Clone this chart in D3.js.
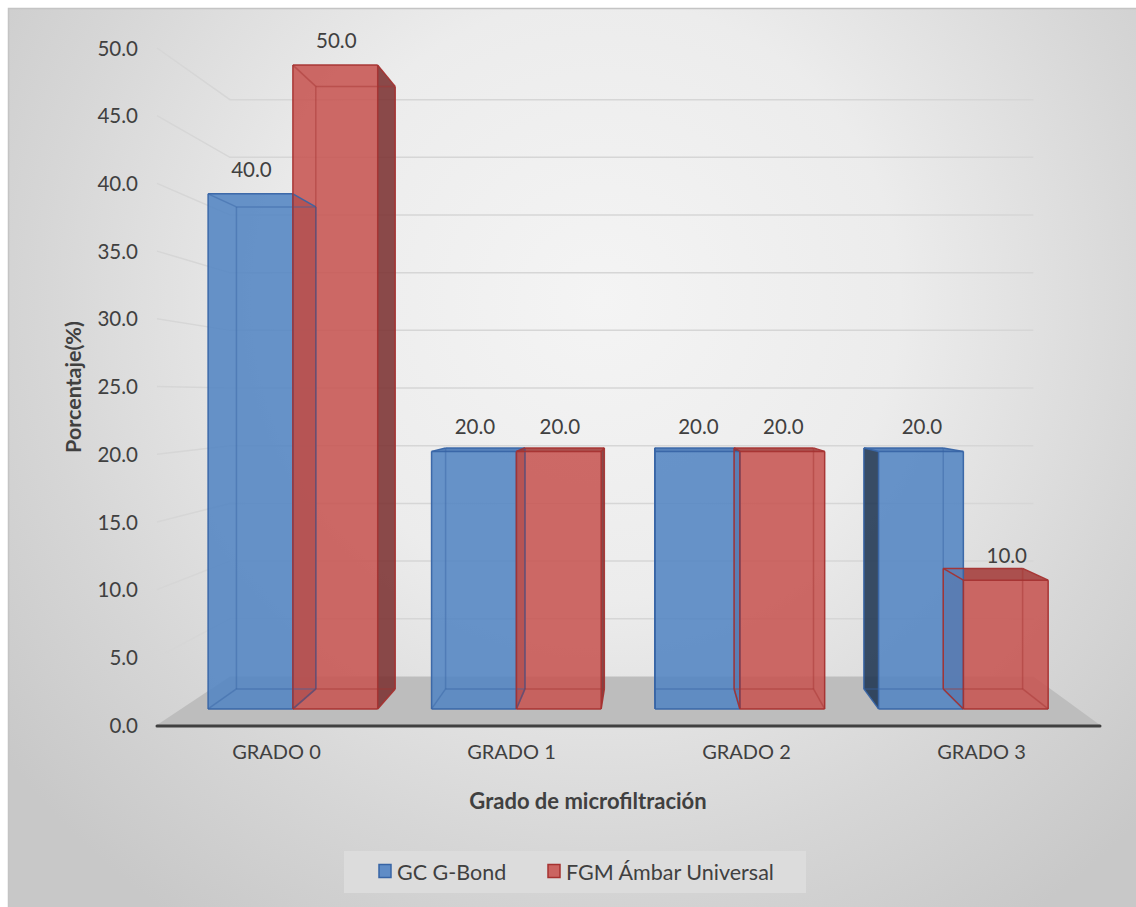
<!DOCTYPE html>
<html>
<head>
<meta charset="utf-8">
<script src="https://cdn.jsdelivr.net/npm/d3@7"></script>
<style>
html,body{margin:0;padding:0;background:#fff;}
svg{display:block;}
text{font-family:Lato,"Open Sans",sans-serif;fill:#404040;}
</style>
</head>
<body>
<svg id="chart" width="1136" height="907"></svg>
<script>
// ---- data ----
const categories = ["GRADO 0", "GRADO 1", "GRADO 2", "GRADO 3"];
const seriesNames = ["GC G-Bond", "FGM Ámbar Universal"];
const gcGBond = [40, 20, 20, 20];
const fgmAmbar = [50, 20, 20, 10];
const yTicks = [0, 5, 10, 15, 20, 25, 30, 35, 40, 45, 50];
const xTitle = "Grado de microfiltración";
const yTitle = "Porcentaje(%)";

// ---- layout / style ----
const W = 1136, H = 907;
const VP = [650, 397];          // vanishing point
const S_WALL_BACK = 0.852, S_BAR_FRONT = 0.951, S_BAR_BACK = 0.890;
const styles = [
  {front:"rgb(83,133,195)", side:"rgb(31,54,82)", top:"rgb(70,118,182)", edge:"rgb(55,100,165)", legend:"rgb(95,140,198)"},
  {front:"rgb(199,85,82)", side:"rgb(124,50,50)", top:"rgb(165,64,62)", edge:"rgb(165,50,48)", legend:"rgb(203,100,97)"}
];

const svg = d3.select("#chart");
const defs = svg.append("defs");
const grad = defs.append("radialGradient").attr("id","bg")
  .attr("gradientUnits","userSpaceOnUse").attr("cx",600).attr("cy",300).attr("r",750);
[[0,"#f4f4f4"],[0.4,"#ececec"],[0.75,"#d6d6d6"],[1,"#c8c8c8"]].forEach(s =>
  grad.append("stop").attr("offset",s[0]).attr("stop-color",s[1]));

svg.append("rect").attr("x",8.5).attr("y",8.5).attr("width",W).attr("height",H)
  .attr("fill","url(#bg)").attr("stroke","#c4c4c4").attr("stroke-width",1.5);

// scales (front plane)
const x = d3.scaleBand().domain(categories).range([157, 1097]).paddingInner(0.241).paddingOuter(0.1205);
const xs = d3.scaleBand().domain(seriesNames).range([0, x.bandwidth()]);
const y = d3.scaleLinear().domain([0, 50]).range([725, 48]);
const X0 = 157, X1 = 1100;

function proj(px, py, s){ return [VP[0] + (px - VP[0]) * s, VP[1] + (py - VP[1]) * s]; }
const line = d3.line();

// gridlines (left wall + back wall)
const grid = svg.append("g").attr("fill","none").attr("stroke","#d6d6d6").attr("stroke-width",1.5);
yTicks.filter(t => t > 0).forEach(t => {
  const a = proj(X0, y(t), 1), b = proj(X0, y(t), S_WALL_BACK), c = proj(X1, y(t), S_WALL_BACK);
  grid.append("path").attr("d", line([a, b, c]));
});

// floor
const floorPts = [proj(X0,y(0),1), proj(X1,y(0),1), proj(X1,y(0),S_WALL_BACK), proj(X0,y(0),S_WALL_BACK)];
svg.append("path").attr("d", line(floorPts) + "Z").attr("fill","#bdbdbd");

// axis line
svg.append("line").attr("x1",X0).attr("x2",X1).attr("y1",y(0)+1).attr("y2",y(0)+1)
  .attr("stroke","#404040").attr("stroke-width",3).attr("stroke-linecap","round");

// bars
const bars = [];
categories.forEach((c, i) => {
  [gcGBond[i], fgmAmbar[i]].forEach((v, k) => {
    const bx0 = x(c) + xs(seriesNames[k]), bx1 = bx0 + xs.bandwidth();
    bars.push({cat:c, k, v, x0:bx0, x1:bx1, y0:y(0), y1:y(v)});
  });
});

function geom(b){
  const P = (xx, yy, dd) => proj(xx, yy, dd === "f" ? S_BAR_FRONT : S_BAR_BACK);
  const vis = {
    front: true, back: false,
    left: b.x0 > VP[0], right: b.x1 < VP[0],
    top: b.y1 > VP[1], bottom: b.y0 < VP[1]
  };
  const faces = {
    front: [P(b.x0,b.y0,"f"),P(b.x1,b.y0,"f"),P(b.x1,b.y1,"f"),P(b.x0,b.y1,"f")],
    left:  [P(b.x0,b.y0,"f"),P(b.x0,b.y1,"f"),P(b.x0,b.y1,"b"),P(b.x0,b.y0,"b")],
    right: [P(b.x1,b.y0,"f"),P(b.x1,b.y1,"f"),P(b.x1,b.y1,"b"),P(b.x1,b.y0,"b")],
    top:   [P(b.x0,b.y1,"f"),P(b.x1,b.y1,"f"),P(b.x1,b.y1,"b"),P(b.x0,b.y1,"b")]
  };
  const edges = [];
  [b.y0,b.y1].forEach(yy => ["f","b"].forEach(dd => edges.push({pts:[P(b.x0,yy,dd),P(b.x1,yy,dd)],
      faces:[yy===b.y1?"top":"bottom", dd==="f"?"front":"back"]})));
  [b.x0,b.x1].forEach(xx => ["f","b"].forEach(dd => edges.push({pts:[P(xx,b.y0,dd),P(xx,b.y1,dd)],
      faces:[xx===b.x0?"left":"right", dd==="f"?"front":"back"]})));
  [b.x0,b.x1].forEach(xx => [b.y0,b.y1].forEach(yy => edges.push({pts:[P(xx,yy,"f"),P(xx,yy,"b")],
      faces:[xx===b.x0?"left":"right", yy===b.y1?"top":"bottom"]})));
  edges.forEach(e => e.visible = e.faces.some(f => vis[f]));
  return {vis, faces, edges};
}
bars.forEach(b => b.g = geom(b));

const gSide = svg.append("g"), gFront = svg.append("g"), gEdge = svg.append("g");
bars.forEach(b => {
  const st = styles[b.k];
  ["left","right"].forEach(f => {
    if (b.g.vis[f]) gSide.append("path").attr("d", line(b.g.faces[f]) + "Z")
      .attr("fill", st.side).attr("fill-opacity", 0.88);
  });
  if (b.g.vis.top) gSide.append("path").attr("d", line(b.g.faces.top) + "Z")
      .attr("fill", st.top).attr("fill-opacity", 0.9);
  gFront.append("path").attr("d", line(b.g.faces.front) + "Z")
      .attr("fill", st.front).attr("fill-opacity", 0.88);
  b.g.edges.forEach(e => {
    gEdge.append("path").attr("d", line(e.pts)).attr("fill","none")
      .attr("stroke", st.edge).attr("stroke-width", 1.5)
      .attr("stroke-opacity", e.visible ? 0.95 : 0.45);
  });
});

// data labels
svg.append("g").selectAll("text").data(bars).join("text")
  .attr("x", b => proj((b.x0 + b.x1) / 2, b.y1, S_BAR_FRONT)[0] + 1)
  .attr("y", b => proj((b.x0 + b.x1) / 2, b.y1, S_BAR_FRONT)[1] - 25)
  .attr("text-anchor","middle").attr("dominant-baseline","central")
  .attr("font-size", 20.5).text(b => d3.format(".1f")(b.v));

// y axis labels
const yAxis = svg.append("g").attr("transform","translate(158,0)")
  .call(d3.axisLeft(y).tickValues(yTicks).tickFormat(d3.format(".1f")).tickSize(0).tickPadding(20));
yAxis.select(".domain").remove();
yAxis.selectAll("text").attr("font-size",20.5).attr("font-family","Lato").attr("fill","#404040").attr("dy","0.35em");

// x axis labels
const xAxis = svg.append("g").attr("transform","translate(0,745)")
  .call(d3.axisBottom(x).tickSize(0).tickPadding(0));
xAxis.select(".domain").remove();
xAxis.selectAll("text").attr("font-size",20).attr("font-family","Lato").attr("fill","#404040")
  .attr("dy","0.71em").attr("dx", 2);

// titles
svg.append("text").attr("x",588).attr("y",800).attr("text-anchor","middle")
  .attr("dominant-baseline","central").attr("font-size",22).attr("font-weight","bold").text(xTitle);
svg.append("text").attr("transform","translate(73,387) rotate(-90)").attr("text-anchor","middle")
  .attr("dominant-baseline","central").attr("font-size",21.5).attr("font-weight","bold").text(yTitle);

// legend
const lg = svg.append("g");
lg.append("rect").attr("x",344).attr("y",851).attr("width",462).attr("height",42).attr("fill","#dcdcdc");
const legendX = [379, 548];
seriesNames.forEach((n, k) => {
  lg.append("rect").attr("x",legendX[k]).attr("y",864.5).attr("width",12).attr("height",13)
    .attr("fill",styles[k].legend).attr("stroke",styles[k].edge).attr("stroke-width",1.5);
  lg.append("text").attr("x",legendX[k]+18).attr("y",872).attr("dominant-baseline","central")
    .attr("font-size",21.5).text(n);
});
</script>
</body>
</html>
